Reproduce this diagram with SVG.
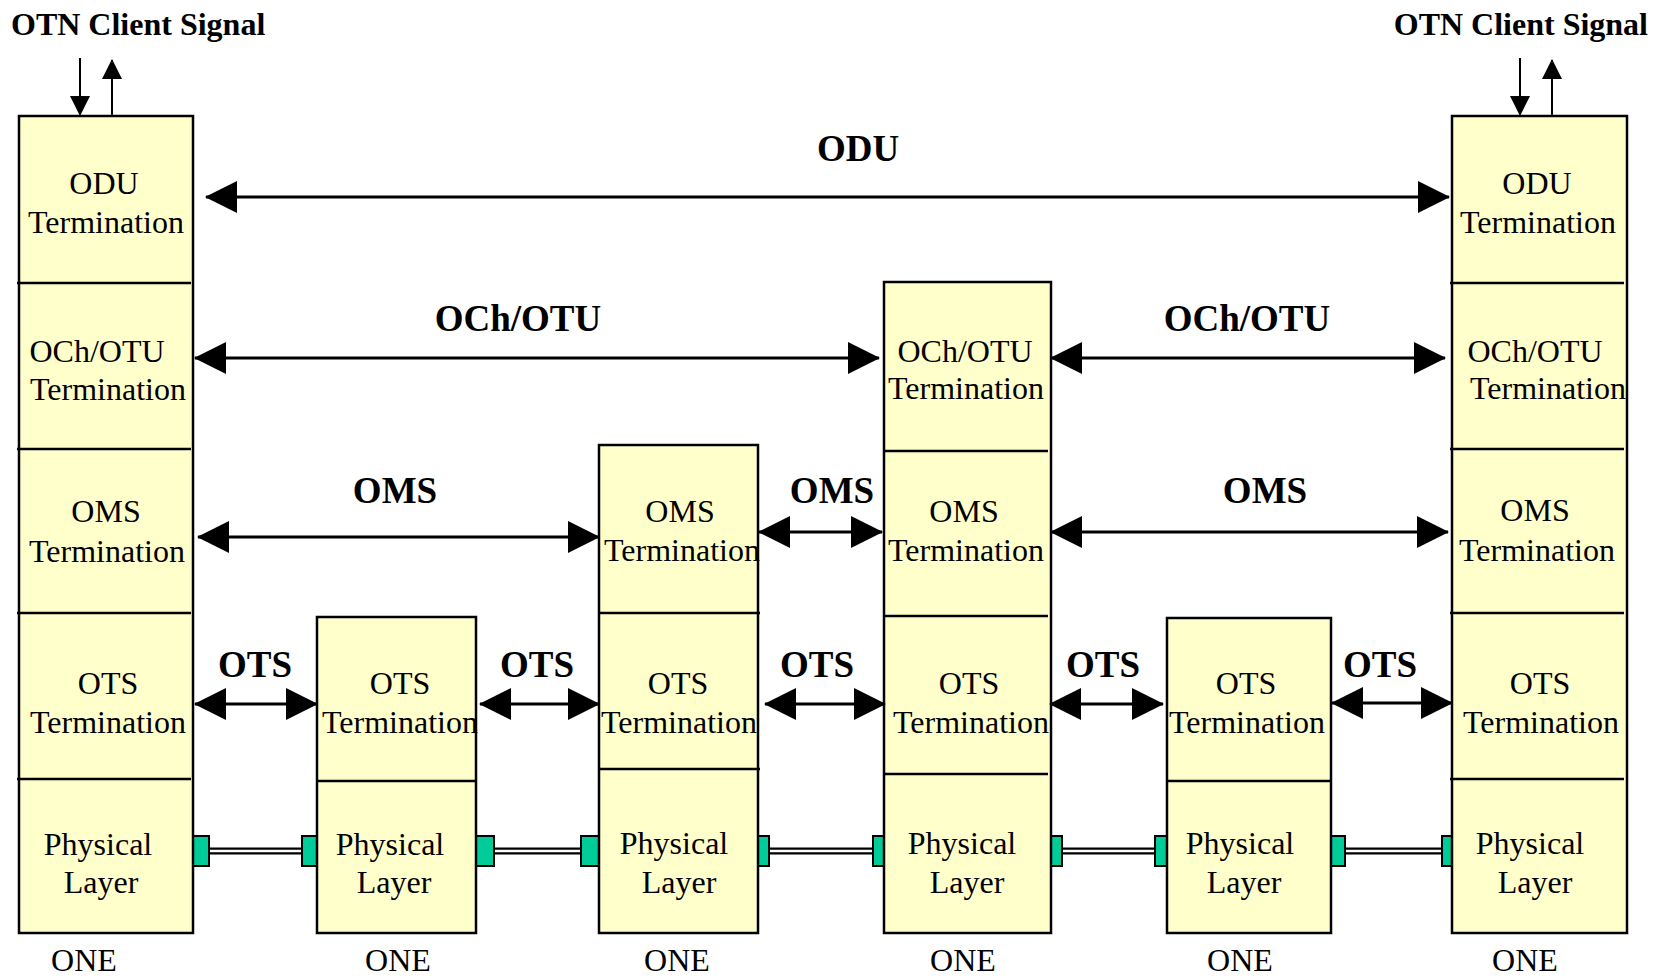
<svg xmlns="http://www.w3.org/2000/svg" width="1659" height="977" viewBox="0 0 1659 977">
<defs>
<marker id="ah" markerUnits="userSpaceOnUse" markerWidth="32" markerHeight="32" refX="31" refY="16" orient="auto-start-reverse" viewBox="0 0 32 32"><path d="M0,0 L32,16 L0,32 z" fill="#000"/></marker>
<marker id="sa" markerUnits="userSpaceOnUse" markerWidth="20" markerHeight="20" refX="19" refY="10" orient="auto" viewBox="0 0 20 20"><path d="M0,0 L20,10 L0,20 z" fill="#000"/></marker>
<style>
.box{fill:#FFFFCC;stroke:#000;stroke-width:2.5}
.div{stroke:#000;stroke-width:2.5}
.t{font-family:"Liberation Serif","Times New Roman",serif;font-size:32px;fill:#000;text-anchor:middle}
.b{font-family:"Liberation Serif","Times New Roman",serif;font-size:37px;font-weight:bold;fill:#000;text-anchor:middle}
.h{font-family:"Liberation Serif","Times New Roman",serif;font-size:32px;font-weight:bold;fill:#000}
.arr{stroke:#000;stroke-width:3;fill:none;marker-start:url(#ah);marker-end:url(#ah)}
.cl{stroke:#000;stroke-width:2;fill:none;marker-end:url(#sa)}
.g{fill:#00CC99;stroke:#000;stroke-width:2}
.r1{stroke:#000;stroke-width:7}
.r2{stroke:#fff;stroke-width:2.5}
</style>
</defs>
<rect width="1659" height="977" fill="#fff"/>

<text class="h" x="11" y="35">OTN Client Signal</text>
<text class="h" x="1648" y="35" text-anchor="end">OTN Client Signal</text>

<g id="fiber">
<line class="r1" x1="208" y1="851" x2="303" y2="851"/><line class="r2" x1="208" y1="851" x2="303" y2="851"/>
<line class="r1" x1="493" y1="851" x2="582" y2="851"/><line class="r2" x1="493" y1="851" x2="582" y2="851"/>
<line class="r1" x1="767" y1="851" x2="874" y2="851"/><line class="r2" x1="767" y1="851" x2="874" y2="851"/>
<line class="r1" x1="1060" y1="851" x2="1156" y2="851"/><line class="r2" x1="1060" y1="851" x2="1156" y2="851"/>
<line class="r1" x1="1343" y1="851" x2="1443" y2="851"/><line class="r2" x1="1343" y1="851" x2="1443" y2="851"/>
<rect class="g" x="193" y="836" width="16" height="30"/>
<rect class="g" x="302" y="836" width="15" height="30"/>
<rect class="g" x="476" y="836" width="18" height="30"/>
<rect class="g" x="581" y="836" width="18" height="30"/>
<rect class="g" x="758" y="836" width="11" height="30"/>
<rect class="g" x="873" y="836" width="11" height="30"/>
<rect class="g" x="1051" y="836" width="11" height="30"/>
<rect class="g" x="1155" y="836" width="12" height="30"/>
<rect class="g" x="1331" y="836" width="14" height="30"/>
<rect class="g" x="1442" y="836" width="10" height="30"/>
</g>

<g id="one1">
<rect class="box" x="19" y="116" width="174" height="817"/>
<line class="div" x1="17" y1="283" x2="191" y2="283"/>
<line class="div" x1="17" y1="449" x2="191" y2="449"/>
<line class="div" x1="17" y1="613" x2="191" y2="613"/>
<line class="div" x1="17" y1="779" x2="191" y2="779"/>
<text class="t" x="104" y="194">ODU</text><text class="t" x="106" y="233">Termination</text>
<text class="t" x="97" y="362">OCh/OTU</text><text class="t" x="108" y="400">Termination</text>
<text class="t" x="106" y="522">OMS</text><text class="t" x="107" y="562">Termination</text>
<text class="t" x="108" y="694">OTS</text><text class="t" x="108" y="733">Termination</text>
<text class="t" x="98" y="855">Physical</text><text class="t" x="101" y="893">Layer</text>
<text class="t" x="84" y="971">ONE</text>
</g>

<g id="one2">
<rect class="box" x="317" y="617" width="159" height="316"/>
<line class="div" x1="317" y1="781" x2="476" y2="781"/>
<text class="t" x="400" y="694">OTS</text><text class="t" x="400" y="733">Termination</text>
<text class="t" x="390" y="855">Physical</text><text class="t" x="394" y="893">Layer</text>
<text class="t" x="398" y="971">ONE</text>
</g>

<g id="one3">
<rect class="box" x="599" y="445" width="159" height="488"/>
<line class="div" x1="599" y1="613" x2="760" y2="613"/>
<line class="div" x1="599" y1="769" x2="760" y2="769"/>
<text class="t" x="680" y="522">OMS</text><text class="t" x="682" y="561">Termination</text>
<text class="t" x="678" y="694">OTS</text><text class="t" x="679" y="733">Termination</text>
<text class="t" x="674" y="854">Physical</text><text class="t" x="679" y="893">Layer</text>
<text class="t" x="677" y="971">ONE</text>
</g>

<g id="one4">
<rect class="box" x="884" y="282" width="167" height="651"/>
<line class="div" x1="884" y1="451" x2="1048" y2="451"/>
<line class="div" x1="884" y1="616" x2="1048" y2="616"/>
<line class="div" x1="884" y1="774" x2="1048" y2="774"/>
<text class="t" x="965" y="362">OCh/OTU</text><text class="t" x="966" y="399">Termination</text>
<text class="t" x="964" y="522">OMS</text><text class="t" x="966" y="561">Termination</text>
<text class="t" x="969" y="694">OTS</text><text class="t" x="971" y="733">Termination</text>
<text class="t" x="962" y="854">Physical</text><text class="t" x="967" y="893">Layer</text>
<text class="t" x="963" y="971">ONE</text>
</g>

<g id="one5">
<rect class="box" x="1167" y="618" width="164" height="315"/>
<line class="div" x1="1167" y1="781" x2="1331" y2="781"/>
<text class="t" x="1246" y="694">OTS</text><text class="t" x="1247" y="733">Termination</text>
<text class="t" x="1240" y="854">Physical</text><text class="t" x="1244" y="893">Layer</text>
<text class="t" x="1240" y="971">ONE</text>
</g>

<g id="one6">
<rect class="box" x="1452" y="116" width="175" height="817"/>
<line class="div" x1="1450" y1="283" x2="1624" y2="283"/>
<line class="div" x1="1450" y1="449" x2="1624" y2="449"/>
<line class="div" x1="1450" y1="613" x2="1624" y2="613"/>
<line class="div" x1="1450" y1="779" x2="1624" y2="779"/>
<text class="t" x="1537" y="194">ODU</text><text class="t" x="1538" y="233">Termination</text>
<text class="t" x="1535" y="362">OCh/OTU</text><text class="t" x="1548" y="399">Termination</text>
<text class="t" x="1535" y="521">OMS</text><text class="t" x="1537" y="561">Termination</text>
<text class="t" x="1540" y="694">OTS</text><text class="t" x="1541" y="733">Termination</text>
<text class="t" x="1530" y="854">Physical</text><text class="t" x="1535" y="893">Layer</text>
<text class="t" x="1525" y="971">ONE</text>
</g>

<g id="connectors">
<line class="cl" x1="80" y1="58" x2="80" y2="115"/>
<line class="cl" x1="112" y1="116" x2="112" y2="60"/>
<line class="cl" x1="1520" y1="58" x2="1520" y2="115"/>
<line class="cl" x1="1552" y1="116" x2="1552" y2="60"/>

<line class="arr" x1="206" y1="197" x2="1449" y2="197"/>
<line class="arr" x1="195" y1="358" x2="879" y2="358"/>
<line class="arr" x1="1051" y1="358" x2="1445" y2="358"/>
<line class="arr" x1="198" y1="537" x2="599" y2="537"/>
<line class="arr" x1="759" y1="532" x2="882" y2="532"/>
<line class="arr" x1="1051" y1="532" x2="1448" y2="532"/>
<line class="arr" x1="195" y1="704" x2="317" y2="704"/>
<line class="arr" x1="480" y1="704" x2="599" y2="704"/>
<line class="arr" x1="765" y1="704" x2="885" y2="704"/>
<line class="arr" x1="1050" y1="704" x2="1163" y2="704"/>
<line class="arr" x1="1332" y1="703" x2="1452" y2="703"/>

<text class="b" x="858" y="161">ODU</text>
<text class="b" x="518" y="331">OCh/OTU</text>
<text class="b" x="1247" y="331">OCh/OTU</text>
<text class="b" x="395" y="503">OMS</text>
<text class="b" x="832" y="503">OMS</text>
<text class="b" x="1265" y="503">OMS</text>
<text class="b" x="255" y="677">OTS</text>
<text class="b" x="537" y="677">OTS</text>
<text class="b" x="817" y="677">OTS</text>
<text class="b" x="1103" y="677">OTS</text>
<text class="b" x="1380" y="677">OTS</text>
</g>
</svg>
